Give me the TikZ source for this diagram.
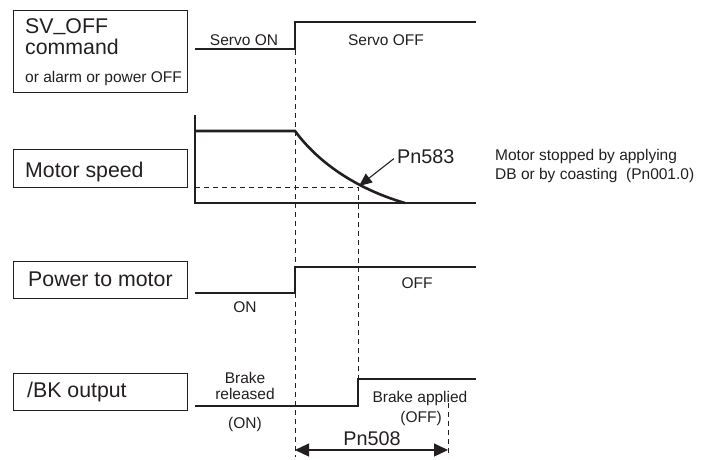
\documentclass[tikz,border=0pt]{standalone}
\usepackage{fontspec}
\setmainfont{Liberation Sans}
\usepackage{xcolor}
\usetikzlibrary{arrows.meta}

\definecolor{ink}{RGB}{35,31,32}

\tikzset{
  sig/.style={line width=2.6pt, draw=ink},
  guide/.style={line width=0.8pt, draw=ink, dash pattern=on 5pt off 4pt},
  framebox/.style={line width=0.9pt, draw=ink},
  biglbl/.style={font=\fontsize{21.3}{24}\selectfont, text=ink, inner sep=0pt, anchor=base west},
  pnlbl/.style={font=\fontsize{19.8}{22}\selectfont, text=ink, inner sep=0pt},
  smalllbl/.style={font=\fontsize{15.5}{17}\selectfont, text=ink, inner sep=0pt, anchor=base},
}

\begin{document}
\begin{tikzpicture}[x=1pt, y=-1pt]
\useasboundingbox (0,0) rectangle (711,459);
\def\tL{195}
\def\tA{295}
\def\tB{358}
\def\tC{448}
\def\tE{476}

% signal name boxes
\foreach \ya/\yb in {10/92, 149/187, 261/298, 373/410}
  \draw[framebox] (13,\ya) rectangle (187,\yb);

\node[biglbl] (svoff) at (25,33) {SV\raisebox{3pt}{\_}OFF};
\node[biglbl] (command) at (25,54) {command};
\node[smalllbl, anchor=base west] (alarm) at (25,82) {or alarm or power OFF};
\node[biglbl] (speed) at (25,177) {Motor speed};
\node[biglbl] (power) at (28,286) {Power to motor};
\node[biglbl] (bk) at (27,397) {/BK output};

% timing lines
\draw[sig] (\tL,49) -- (\tA,49) -- (\tA,22) -- (\tE,22);
\draw[line width=1.2pt, draw=ink] (\tL,115) -- (\tL,203) -- (\tE,203);
\draw[sig] (\tL,131) -- (\tA,131) .. controls (320,165) and (360,190) .. (405,203);
\draw[sig] (\tL,293) -- (\tA,293) -- (\tA,267) -- (\tE,267);
\draw[sig] (\tL,406) -- (\tB,406) -- (\tB,379) -- (\tE,379);

% dashed guides
\draw[guide] (\tA,50) -- (\tA,457);
\draw[guide] (\tL,187) -- (\tB,187) -- (\tB,379);
\draw[guide] (\tC,403) -- (\tC,457);

\node[smalllbl] (svon) at (244,45) {Servo ON};
\node[smalllbl] (svof) at (386,45) {Servo OFF};
\node[smalllbl] (pwon) at (245,312) {ON};
\node[smalllbl] (pwoff) at (417,288) {OFF};
\node[smalllbl] (brk1) at (245,383) {Brake};
\node[smalllbl] (brk2) at (245,399) {released};
\node[smalllbl] (brkon) at (245,428) {(ON)};
\node[smalllbl] (brk3) at (420,402) {Brake applied};
\node[smalllbl] (brkoff) at (421,422) {(OFF)};

% Pn583 deceleration point
\coordinate (stop) at (359,186);
\node[pnlbl, anchor=base west] (pn583) at (397,163) {Pn583};
\draw[line width=1.1pt, draw=ink, -{Triangle[length=13pt,width=11pt]}, shorten <=4pt] (pn583.west) -- (stop);
\node[smalllbl, anchor=base west] (note1) at (495,160) {Motor stopped by applying};
\node[smalllbl, anchor=base west] (note2) at (495,179) {DB or by coasting~~(Pn001.0)};

% Pn508 delay
\coordinate (t0) at (\tA,450);
\coordinate (t1) at (\tC,450);
\draw[line width=1.2pt, draw=ink, {Triangle[length=14pt,width=13pt]}-{Triangle[length=14pt,width=13pt]}] (t0) -- (t1);
\node[pnlbl, anchor=base] (pn508) at (372,445) {Pn508};
\end{tikzpicture}
\end{document}
